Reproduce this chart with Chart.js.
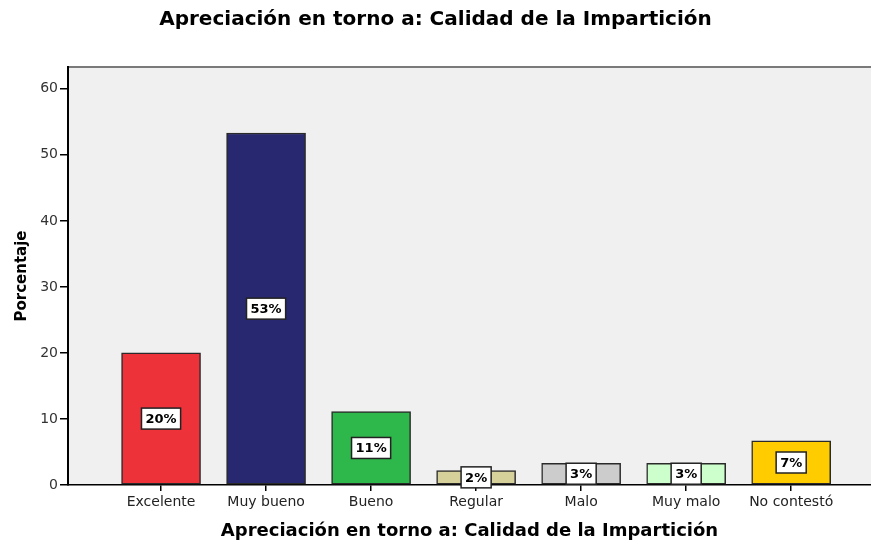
<!DOCTYPE html>
<html>
<head>
<meta charset="utf-8">
<script src="https://cdn.jsdelivr.net/npm/chart.js@4/dist/chart.umd.min.js"></script>
<style>
  html, body { margin: 0; padding: 0; background: #fff; }
  #wrap { width: 871px; height: 542px; }
</style>
</head>
<body>
<div id="wrap"><canvas id="chart" width="871" height="542"></canvas></div>
<script>
const categories = ["Excelente", "Muy bueno", "Bueno", "Regular", "Malo", "Muy malo", "No contestó"];
const percentages = [20.0, 53.3, 11.1, 2.2, 3.3, 3.3, 6.7];
const pctLabels = ["20%", "53%", "11%", "2%", "3%", "3%", "7%"];
const barColors = ["#ee3239", "#282870", "#2eb84b", "#d6d09a", "#cccccc", "#ccffcc", "#ffcc00"];
const yTicks = [0, 10, 20, 30, 40, 50, 60];

const chartTitle = "Apreciación en torno a: Calidad de la Impartición";
const FONT = "'DejaVu Sans', sans-serif";

// plot background + thin grey frame at the top
const plotBg = {
  id: "plotBg",
  beforeDraw(chart) {
    const { ctx, chartArea: a } = chart;
    ctx.save();
    ctx.fillStyle = "#ffffff";
    ctx.fillRect(0, 0, chart.width, chart.height);
    ctx.fillStyle = "#f0f0f0";
    ctx.fillRect(a.left, a.top, a.right - a.left, a.bottom - a.top);
    ctx.strokeStyle = "#7a7a7a";
    ctx.lineWidth = 2;
    ctx.beginPath();
    ctx.moveTo(a.left, a.top);
    ctx.lineTo(a.right, a.top);
    ctx.stroke();
    ctx.restore();
  },
};

// white boxed percentage labels in the middle of every bar
const boxLabels = {
  id: "boxLabels",
  afterDatasetsDraw(chart) {
    const { ctx } = chart;
    const meta = chart.getDatasetMeta(0);
    ctx.save();
    ctx.font = "bold 13px " + FONT;
    ctx.textAlign = "center";
    ctx.textBaseline = "middle";
    meta.data.forEach((bar, i) => {
      const txt = pctLabels[i];
      const cx = bar.x;
      const cy = (bar.y + bar.base) / 2;
      const w = ctx.measureText(txt).width + 8;
      const h = 21;
      ctx.fillStyle = "#ffffff";
      ctx.fillRect(cx - w / 2, cy - h / 2, w, h);
      ctx.strokeStyle = "#222";
      ctx.lineWidth = 1.5;
      ctx.strokeRect(cx - w / 2, cy - h / 2, w, h);
      ctx.fillStyle = "#000";
      ctx.fillText(txt, cx, cy + 1);
    });
    ctx.restore();
  },
};

const points = percentages.map((v, i) => ({ x: i, y: v }));

new Chart(document.getElementById("chart"), {
  type: "bar",
  data: {
    datasets: [{
      data: points,
      backgroundColor: barColors,
      borderColor: "#2a2a2a",
      borderWidth: 1.5,
      borderSkipped: false,
      barThickness: 79,
    }],
  },
  options: {
    responsive: false,
    animation: false,
    layout: { padding: 0 },
    plugins: {
      legend: { display: false },
      tooltip: { enabled: false },
      title: {
        display: true,
        text: chartTitle,
        color: "#000",
        font: { family: FONT, size: 20, weight: "bold" },
        padding: { top: 8, bottom: 35 },
      },
    },
    scales: {
      x: {
        type: "linear",
        offset: false,
        min: -0.886,
        max: 6.76,
        afterBuildTicks: (scale) => {
          scale.ticks = categories.map((c, i) => ({ value: i }));
        },
        afterFit: (scale) => { scale.height = 57; },
        ticks: {
          autoSkip: false,
          maxRotation: 0,
          color: "#222",
          padding: 3,
          font: { family: FONT, size: 14 },
          callback: (v) => categories[v],
        },
        grid: { offset: false, drawOnChartArea: false, tickLength: 6, color: "#000", lineWidth: 1.5 },
        border: { display: true, color: "#000", width: 1.5 },
        title: {
          display: true,
          text: chartTitle,
          color: "#000",
          font: { family: FONT, size: 18, weight: "bold" },
          padding: { top: 0, bottom: 0 },
        },
      },
      y: {
        min: 0,
        max: 63.3,
        afterBuildTicks: (scale) => {
          scale.ticks = yTicks.map((v) => ({ value: v }));
        },
        afterFit: (scale) => { scale.width = 68; },
        ticks: {
          color: "#333",
          padding: 2,
          font: { family: FONT, size: 14 },
        },
        grid: { drawOnChartArea: false, tickLength: 8, color: "#000", lineWidth: 1.5 },
        border: { display: true, color: "#000", width: 2 },
        title: {
          display: true,
          text: "Porcentaje",
          color: "#000",
          font: { family: FONT, size: 15, weight: "bold" },
          padding: { top: 13, bottom: 0 },
        },
      },
    },
  },
  plugins: [plotBg, boxLabels],
});
</script>
</body>
</html>
